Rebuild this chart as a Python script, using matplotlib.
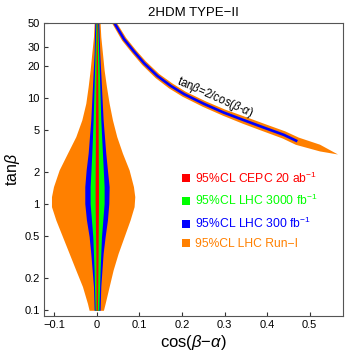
import numpy as np
import matplotlib
matplotlib.use('Agg')
import matplotlib.pyplot as plt
from matplotlib.patches import Patch

plt.rcParams['font.family'] = ['Liberation Sans', 'DejaVu Sans']
plt.rcParams['mathtext.fontset'] = 'custom'
plt.rcParams['mathtext.rm'] = 'Liberation Sans'
plt.rcParams['mathtext.it'] = 'Liberation Sans:italic'

# violin region near cos(beta-alpha) = 0
tb_orange = [50, 37.5, 26.2, 18.2, 12.7, 8.85, 6.17, 4.30, 3.00, 2.09, 1.456, 1.172, 0.944,
             0.707, 0.493, 0.343, 0.239, 0.167, 0.116, 0.1]
orange_lo = [-0.0063, -0.0078, -0.0117, -0.0156, -0.0203, -0.0258, -0.0352, -0.0493, -0.0689,
             -0.0884, -0.1017, -0.1064, -0.1064, -0.0962, -0.0806, -0.0649, -0.0493, -0.0336,
             -0.0219, -0.0180]
orange_hi = [0.0078, 0.0094, 0.0133, 0.0172, 0.0227, 0.0290, 0.0368, 0.0469, 0.0603, 0.0759,
             0.0861, 0.0892, 0.0876, 0.0782, 0.0642, 0.0501, 0.0383, 0.0290, 0.0196, 0.0156]

tb_blue = [50, 26.2, 12.7, 6.17, 3.00, 2.09, 1.456, 1.01, 0.707, 0.493, 0.343, 0.167, 0.1]
blue_lo = [-0.0047, -0.0063, -0.0102, -0.0141, -0.0203, -0.0250, -0.0282, -0.0282, -0.0243,
           -0.0180, -0.0141, -0.0078, -0.0063]
blue_hi = [0.0047, 0.0070, 0.0110, 0.0149, 0.0211, 0.0250, 0.0290, 0.0282, 0.0250, 0.0196,
           0.0149, 0.0094, 0.0078]

tb_green = [50, 12.7, 6.17, 3.00, 1.456, 1.01, 0.493, 0.239, 0.1]
green_lo = [-0.0023, -0.0063, -0.0086, -0.0117, -0.0156, -0.0156, -0.0094, -0.0063, -0.0039]
green_hi = [0.0023, 0.0070, 0.0094, 0.0133, 0.0172, 0.0172, 0.0110, 0.0078, 0.0047]

tb_red = [50, 6.17, 1.456, 1.01, 0.343, 0.1]
red_lo = [-0.0008, -0.0031, -0.0039, -0.0039, -0.0023, -0.0016]
red_hi = [0.0008, 0.0031, 0.0039, 0.0039, 0.0031, 0.0016]

# wrong-sign band: orange edges and blue centre line
band_outer_x = [0.0477, 0.0688, 0.0920, 0.1155, 0.1465, 0.1775, 0.2082, 0.2549, 0.3016,
                0.3488, 0.3958, 0.4430, 0.4742, 0.5242, 0.5664]
band_outer_tb = [50, 36.5, 28.0, 21.9, 16.7, 13.6, 11.4, 9.27, 7.71, 6.60, 5.63, 4.81, 4.21,
                 3.61, 2.92]
band_inner_x = [0.0359, 0.0594, 0.0831, 0.1066, 0.1380, 0.1700, 0.2016, 0.2488, 0.2960,
                0.3427, 0.3897, 0.4364, 0.4676, 0.5242]
band_inner_tb = [50, 34.4, 26.2, 20.3, 15.3, 12.2, 10.2, 8.21, 6.77, 5.69, 4.84, 4.13, 3.60,
                 3.12]
blue_x = [0.0418, 0.0641, 0.0876, 0.111, 0.1423, 0.1737, 0.2049, 0.2519, 0.2988, 0.3458,
          0.3927, 0.4397, 0.4709]
blue_tb = [50, 35.4, 27.1, 21.1, 16.0, 12.9, 10.8, 8.73, 7.22, 6.13, 5.22, 4.46, 3.89]

c_orange = '#FF8000'
c_blue = '#0000FF'
c_green = '#00FF00'
c_red = '#FF0000'

fig = plt.figure(figsize=(3.45, 3.59), dpi=100)
ax = fig.add_axes([0.1275, 0.1198, 0.8665, 0.817])

ax.fill_betweenx(tb_orange, orange_lo, orange_hi, color=c_orange, lw=0)
ax.fill_betweenx(tb_blue, blue_lo, blue_hi, color=c_blue, lw=0)
ax.fill_betweenx(tb_green, green_lo, green_hi, color=c_green, lw=0)
ax.fill_betweenx(tb_red, red_lo, red_hi, color=c_red, lw=0)

# band polygon: outer edge then inner edge reversed
poly_x = band_outer_x + band_inner_x[::-1]
poly_y = band_outer_tb + band_inner_tb[::-1]
ax.fill(poly_x, poly_y, color=c_orange, lw=0)
ax.plot(blue_x, blue_tb, color=c_blue, lw=1.9, solid_capstyle='butt')

ax.text(0.277, 10.1, r'tan$\beta$=2/cos($\beta$-$\alpha$)', rotation=-24,
        fontsize=8.3, ha='center', va='center')

ax.set_yscale('log')
ax.set_xlim(-0.124, 0.578)
ax.set_ylim(0.0884, 50.7)

yt = [0.1, 0.2, 0.5, 1, 2, 5, 10, 20, 30, 50]
ax.set_yticks(yt)
ax.set_yticklabels(['0.1', '0.2', '0.5', '1', '2', '5', '10', '20', '30', '50'])
ax.yaxis.set_minor_locator(matplotlib.ticker.NullLocator())
xt = [-0.1, 0, 0.1, 0.2, 0.3, 0.4, 0.5]
ax.set_xticks(xt)
ax.set_xticklabels(['\u22120.1', '0', '0.1', '0.2', '0.3', '0.4', '0.5'])
ax.tick_params(direction='in', length=3, width=0.8, labelsize=8, colors='#333333',
               labelcolor='black', pad=3)
for s in ax.spines.values():
    s.set_color('#555555')
    s.set_linewidth(0.8)

ax.set_xlabel('cos($\\beta$\u2212$\\alpha$)', fontsize=12, labelpad=2)
ax.set_ylabel(r'tan$\beta$', fontsize=11.5, labelpad=2)
ax.set_title('2HDM TYPE\u2212II', fontsize=9.5, pad=5)

labels = ['95%CL CEPC 20 ab$^{-1}$', '95%CL LHC 3000 fb$^{-1}$',
          '95%CL LHC 300 fb$^{-1}$', '95%CL LHC Run\u2212I']
colors = [c_red, c_green, c_blue, c_orange]
handles = [Patch(facecolor=c, edgecolor='none') for c in colors]
leg = ax.legend(handles, labels, loc='upper left', bbox_to_anchor=(0.445, 0.513),
                frameon=False, fontsize=8.7, handlelength=0.65, handleheight=0.65,
                handletextpad=0.4, labelspacing=0.62, borderaxespad=0)
for t, c in zip(leg.get_texts(), colors):
    t.set_color(c)

fig.savefig('out.png', dpi=100)
